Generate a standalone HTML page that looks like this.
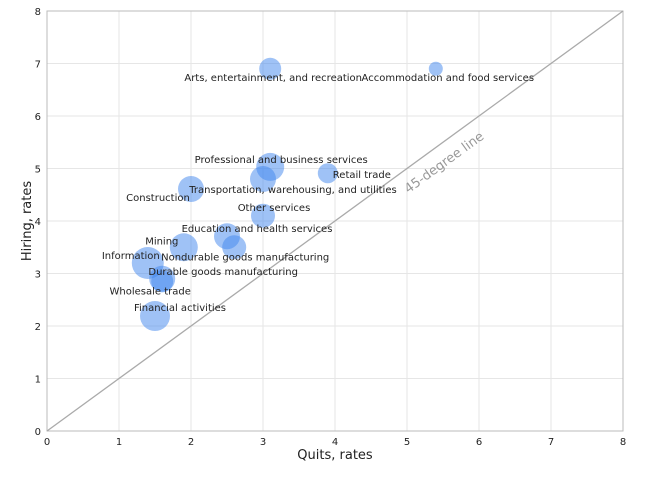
<!DOCTYPE html>
<html><head><meta charset="utf-8"><style>
body{margin:0;background:#fff}
svg text{font-family:"DejaVu Sans","Liberation Sans",sans-serif;fill:#222}
</style></head><body>
<svg id="chart" width="650" height="476" viewBox="0 0 650 476" xmlns="http://www.w3.org/2000/svg">
<g id="grid"></g><g id="axes"></g><g id="marks"></g><g id="labels"></g>
</svg>
<script>
const industries=["Arts, entertainment, and recreation","Accommodation and food services","Professional and business services","Retail trade","Transportation, warehousing, and utilities","Construction","Other services","Education and health services","Nondurable goods manufacturing","Mining","Information","Durable goods manufacturing","Wholesale trade","Financial activities"];
const quits=[3.1,5.4,3.1,3.9,3.0,2.0,3.0,2.5,2.6,1.9,1.4,1.6,1.6,1.5];
const hires=[6.9,6.9,5.03,4.91,4.8,4.61,4.1,3.71,3.5,3.5,3.2,2.9,2.85,2.19];
const sizes=[11,7,14,10,13,13,12,13,12,14,16,13,11,15];
const xTicks=[0,1,2,3,4,5,6,7,8];
const yTicks=[0,1,2,3,4,5,6,7,8];
// label offsets in pixels (layout, not data): [dx, dy, anchor]
const lab=[[3,12,"middle"],[12,12,"middle"],[11,-4,"middle"],[5,5,"start"],[30,14,"middle"],[-33,12,"middle"],[11,-5,"middle"],[30,-4,"middle"],[11,13,"middle"],[-22,-3,"middle"],[-17,-4,"middle"],[61,-4,"middle"],[-12,13,"middle"],[25,-5,"middle"]];
const X0=47,X1=623,Y0=431,Y1=11;
const sx=v=>X0+(v-0)/(8-0)*(X1-X0);
const sy=v=>Y0-(v-0)/(8-0)*(Y0-Y1);
const NS="http://www.w3.org/2000/svg";
function mk(t,a,p){const e=document.createElementNS(NS,t);for(const k in a)e.setAttribute(k,a[k]);p.appendChild(e);return e;}
const G=document.getElementById('grid'),A=document.getElementById('axes'),M=document.getElementById('marks'),L=document.getElementById('labels');
xTicks.forEach(t=>{const l=mk('line',{x1:sx(t),x2:sx(t),y1:Y1,y2:Y0,stroke:'#e6e6e6'},G);

const tx=mk('text',{x:sx(t),y:Y0+14,'text-anchor':'middle','font-size':10},A);tx.textContent=t;
});
yTicks.forEach(t=>{const l=mk('line',{x1:X0,x2:X1,y1:sy(t),y2:sy(t),stroke:'#e6e6e6'},G);

const tx=mk('text',{x:X0-6,y:sy(t)+4,'text-anchor':'end','font-size':10},A);tx.textContent=t;
});
const fr=mk('rect',{x:X0,y:Y1,width:X1-X0,height:Y0-Y1,fill:'none',stroke:'#bbb'},A);

const dl=mk('line',{x1:sx(0),y1:sy(0),x2:sx(8),y2:sy(8),stroke:'#aaa','stroke-width':1.3},A);

const dlt=mk('text',{x:0,y:0,'font-size':13,'text-anchor':'middle',transform:`translate(${sx(5.55)},${sy(5.05)}) rotate(-36)`,style:'fill:#999'},A);dlt.textContent='45-degree line';

const xt=mk('text',{x:(X0+X1)/2,y:459,'text-anchor':'middle','font-size':13},A);xt.textContent='Quits, rates';

const yt=mk('text',{x:0,y:0,'text-anchor':'middle','font-size':13,transform:`translate(31,${(Y0+Y1)/2}) rotate(-90)`},A);yt.textContent='Hiring, rates';

industries.forEach((n,i)=>{
const c=mk('circle',{cx:sx(quits[i]),cy:sy(hires[i]),r:sizes[i],fill:'#3f86ee','fill-opacity':0.5},M);


const t=mk('text',{x:sx(quits[i])+lab[i][0],y:sy(hires[i])+lab[i][1],'text-anchor':lab[i][2],'font-size':10},L);t.textContent=n;


});
</script>
</body></html>
